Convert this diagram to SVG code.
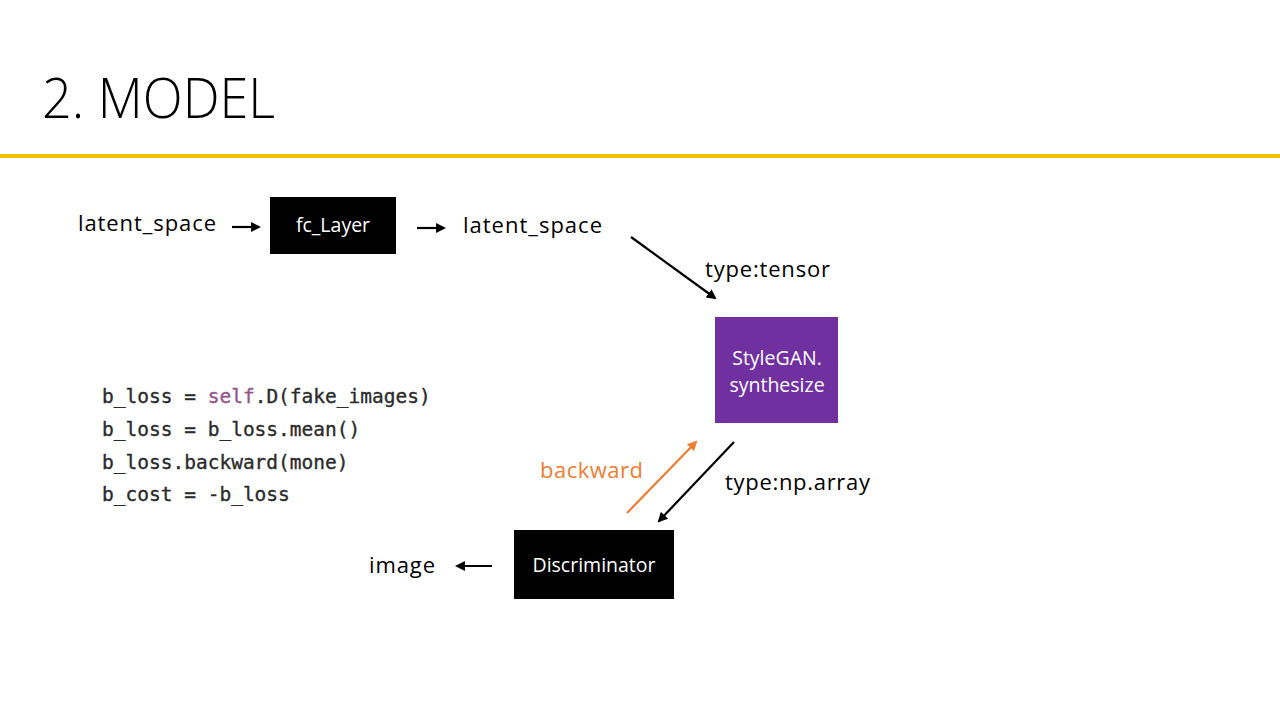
<svg xmlns="http://www.w3.org/2000/svg" width="1280" height="720" viewBox="0 0 1280 720">
<style>
.lbl{font-family:"Open Sans","Liberation Sans",sans-serif;font-size:22px;fill:#000}
.nt{font-family:"Open Sans","Liberation Sans",sans-serif;font-size:19.5px;fill:#fff;text-anchor:middle}
.code{font-family:"DejaVu Sans Mono","Liberation Mono",monospace;font-size:19.5px;fill:#2b2b2b;stroke:#2b2b2b;stroke-width:0.35}
.c{stroke:#000;stroke-width:2.2;fill:none;marker-end:url(#ah)}
</style>
<defs>
<marker id="ah" viewBox="0 0 10 10" refX="8" refY="5" markerWidth="4.5" markerHeight="4.5" orient="auto"><path d="M0,0 L10,5 L0,10 z" fill="#000"/></marker>
<marker id="aho" viewBox="0 0 10 10" refX="8" refY="5" markerWidth="4.5" markerHeight="4.5" orient="auto"><path d="M0,0 L10,5 L0,10 z" fill="#ED7D31"/></marker>
</defs>
<rect width="1280" height="720" fill="#fff"/>
<text x="42" y="118" font-family="Open Sans, Liberation Sans, sans-serif" font-weight="300" font-size="56" textLength="233" lengthAdjust="spacingAndGlyphs" fill="#000">2. MODEL</text>
<rect x="0" y="154" width="1280" height="4" fill="#F2C100"/>

<g id="labels">
<text class="lbl" x="78" y="231" textLength="138">latent_space</text>
<text class="lbl" x="463" y="233" textLength="139">latent_space</text>
<text class="lbl" x="705" y="277" textLength="125">type:tensor</text>
<text class="lbl" x="540" y="478" textLength="103" style="fill:#ED7D31">backward</text>
<text class="lbl" x="725" y="490" textLength="145">type:np.array</text>
<text class="lbl" x="369" y="573" textLength="66">image</text>
</g>

<g id="fc_layer">
<rect x="270" y="197" width="126" height="57" fill="#000"/>
<text class="nt" x="333" y="232">fc_Layer</text>
</g>
<g id="stylegan">
<rect x="715" y="317" width="123" height="106" fill="#7030A0"/>
<text class="nt" x="777" y="365">StyleGAN.</text>
<text class="nt" x="777" y="392">synthesize</text>
</g>
<g id="discriminator">
<rect x="514" y="530" width="160" height="69" fill="#000"/>
<text class="nt" x="594" y="572">Discriminator</text>
</g>

<g id="code">
<text class="code" x="102" y="403">b_loss = <tspan fill="#94558d" stroke="#94558d">self</tspan>.D(fake_images)</text>
<text class="code" x="102" y="436">b_loss = b_loss.mean()</text>
<text class="code" x="102" y="469">b_loss.backward(mone)</text>
<text class="code" x="102" y="501">b_cost = -b_loss</text>
</g>

<g id="connectors">
<line class="c" x1="232" y1="227" x2="259" y2="227"/>
<line class="c" x1="417" y1="228" x2="444" y2="228"/>
<line class="c" x1="631" y1="237" x2="715" y2="298"/>
<line class="c" x1="734" y1="442" x2="659" y2="521"/>
<line x1="627" y1="513" x2="696" y2="442" stroke="#ED7D31" stroke-width="2.2" marker-end="url(#aho)"/>
<line class="c" x1="492" y1="566" x2="457" y2="566"/>
</g>
</svg>
